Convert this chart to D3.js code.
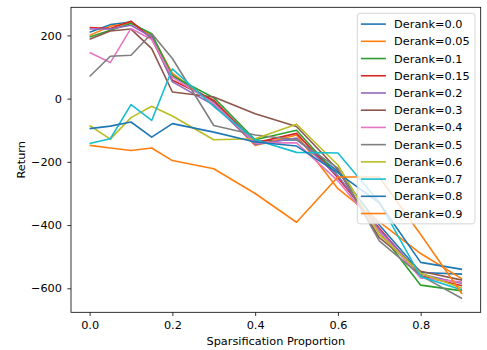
<!DOCTYPE html>
<html>
<head>
<meta charset="utf-8">
<script src="https://cdn.jsdelivr.net/npm/d3@7"></script>
<style>
  html, body { margin: 0; padding: 0; background: #fff; }
  svg { display: block; font-family: "DejaVu Sans", sans-serif; }
</style>
</head>
<body>
<svg id="chart" width="487" height="350"></svg>
<script>
// Sparsification proportions sampled on the x axis
const proportions = [0, 0.05, 0.1, 0.15, 0.2, 0.3, 0.4, 0.5, 0.6, 0.7, 0.8, 0.9];

// Return for each derank setting
const derankLabels = ["Derank=0.0", "Derank=0.05", "Derank=0.1", "Derank=0.15", "Derank=0.2",
  "Derank=0.3", "Derank=0.4", "Derank=0.5", "Derank=0.6", "Derank=0.7", "Derank=0.8", "Derank=0.9"];

const derank00  = [210, 234, 242, 200, 74, -10, -135, -130, -230, -400, -550, -555];
const derank005 = [200, 229, 240, 200, 80, -15, -148, -115, -285, -390, -490, -570];
const derank01  = [195, 216, 238, 205, 72, 3, -130, -100, -245, -420, -590, -608];
const derank015 = [225, 222, 245, 190, 58, -5, -140, -110, -250, -410, -560, -592];
const derank02  = [220, 220, 232, 195, 53, -20, -145, -125, -245, -415, -555, -585];
const derank03  = [188, 214, 220, 158, 21, 5, -48, -88, -225, -440, -546, -574];
const derank04  = [146, 114, 222, 187, 68, -15, -140, -140, -260, -420, -567, -580];
const derank05  = [70, 134, 137, 206, 127, -85, -115, -130, -220, -450, -560, -632];
const derank06  = [-85, -128, -60, -24, -55, -130, -127, -81, -210, -430, -552, -600];
const derank07  = [-142, -127, -19, -69, 94, -25, -130, -170, -172, -328, -563, -605];
const derank08  = [-95, -87, -74, -122, -79, -106, -137, -150, -235, -330, -518, -540];
const derank09  = [-148, -156, -164, -156, -196, -222, -300, -391, -248, -248, -430, -618];

const seriesValues = [derank00, derank005, derank01, derank015, derank02, derank03,
  derank04, derank05, derank06, derank07, derank08, derank09];

const xTicks = [0.0, 0.2, 0.4, 0.6, 0.8];
const yTicks = [-600, -400, -200, 0, 200];

const palette = ["#1f77b4", "#ff7f0e", "#2ca02c", "#d62728", "#9467bd",
  "#8c564b", "#e377c2", "#7f7f7f", "#bcbd22", "#17becf"];

const svg = d3.select("#chart");
const plot = { left: 71, top: 7.3, right: 480.7, bottom: 312.3 };
const fontSize = 11.3;

// Axis limits with a 5% margin around the data
const xMin = d3.min(proportions), xMax = d3.max(proportions);
const xPad = (xMax - xMin) * 0.05;
const allVals = seriesValues.flat();
const yMin = d3.min(allVals), yMax = d3.max(allVals);
const yPad = (yMax - yMin) * 0.05;

const x = d3.scaleLinear().domain([xMin - xPad, xMax + xPad]).range([plot.left, plot.right]);
const y = d3.scaleLinear().domain([yMin - yPad, yMax + yPad]).range([plot.bottom, plot.top]);

const series = derankLabels.map((label, i) => ({
  label,
  color: palette[i % palette.length],
  points: proportions.map((p, j) => [p, seriesValues[i][j]])
}));

const clipId = "plot-clip";
svg.append("defs").append("clipPath").attr("id", clipId)
  .append("rect")
  .attr("x", plot.left).attr("y", plot.top)
  .attr("width", plot.right - plot.left).attr("height", plot.bottom - plot.top);

const line = d3.line().x(d => x(d[0])).y(d => y(d[1]));

svg.append("g").attr("clip-path", `url(#${clipId})`)
  .selectAll("path")
  .data(series)
  .join("path")
  .attr("d", d => line(d.points))
  .attr("fill", "none")
  .attr("stroke", d => d.color)
  .attr("stroke-width", 1.6)
  .attr("stroke-linejoin", "round")
  .attr("stroke-linecap", "butt");

// Axes
const xAxis = d3.axisBottom(x).tickValues(xTicks).tickFormat(d3.format(".1f"))
  .tickSize(3.7).tickPadding(5.3);
const yAxis = d3.axisLeft(y).tickValues(yTicks).tickFormat(d => d < 0 ? "\u2212" + Math.abs(d) : String(d))
  .tickSize(3.7).tickPadding(5.3);

const gx = svg.append("g").attr("transform", `translate(0,${plot.bottom})`).call(xAxis);
const gy = svg.append("g").attr("transform", `translate(${plot.left},0)`).call(yAxis);
[gx, gy].forEach(g => {
  g.attr("font-family", null).attr("font-size", null);
  g.select(".domain").remove();
  g.selectAll(".tick line").attr("stroke", "#000").attr("stroke-width", 0.8);
  g.selectAll(".tick text").attr("fill", "#000")
    .style("font-size", fontSize + "px")
    .style("font-family", "'DejaVu Sans'");
});

// Frame
svg.append("rect")
  .attr("x", plot.left).attr("y", plot.top)
  .attr("width", plot.right - plot.left).attr("height", plot.bottom - plot.top)
  .attr("fill", "none").attr("stroke", "#000").attr("stroke-width", 0.8);

// Axis titles
svg.append("text")
  .attr("x", (plot.left + plot.right) / 2).attr("y", 345.2)
  .attr("text-anchor", "middle").style("font-size", fontSize + "px").attr("fill", "#000")
  .text("Sparsification Proportion");

svg.append("text")
  .attr("transform", `translate(25,${(plot.top + plot.bottom) / 2}) rotate(-90)`)
  .attr("text-anchor", "middle").style("font-size", fontSize + "px").attr("fill", "#000")
  .text("Return");

// Legend
const legend = { x: 357.3, y: 13.3, w: 117.7, rowH: 17.22, firstRow: 10.8 };
const legendH = legend.firstRow + (series.length - 1) * legend.rowH + 10.3;
const lg = svg.append("g");
lg.append("rect")
  .attr("x", legend.x).attr("y", legend.y)
  .attr("width", legend.w).attr("height", legendH)
  .attr("rx", 2.5).attr("ry", 2.5)
  .attr("fill", "#fff").attr("fill-opacity", 0.8)
  .attr("stroke", "#cccccc").attr("stroke-width", 0.8);

const rows = lg.selectAll("g.row")
  .data(series)
  .join("g")
  .attr("class", "row")
  .attr("transform", (d, i) => `translate(${legend.x},${legend.y + legend.firstRow + i * legend.rowH})`);

rows.append("line")
  .attr("x1", 3.6).attr("x2", 28.6).attr("y1", 0).attr("y2", 0)
  .attr("stroke", d => d.color).attr("stroke-width", 1.6);

rows.append("text")
  .attr("x", 36.8).attr("y", 0).attr("dy", "0.36em")
  .style("font-size", fontSize + "px").attr("fill", "#000")
  .text(d => d.label);
</script>
</body>
</html>
